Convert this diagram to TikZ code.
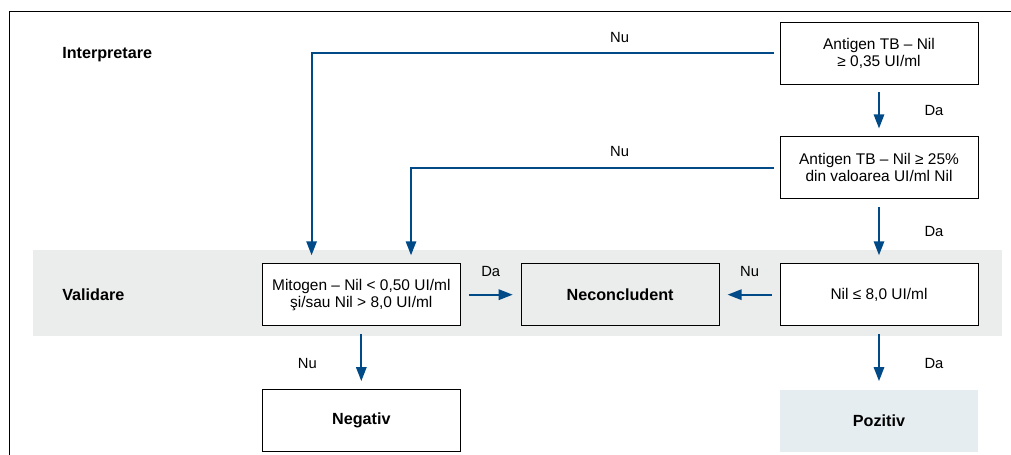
\documentclass[tikz,border=0pt]{standalone}
\usepackage{fontspec}
\setmainfont{Liberation Sans}
\usetikzlibrary{arrows.meta, positioning, calc, backgrounds}
\definecolor{qblue}{RGB}{0,75,135}
\definecolor{bandgray}{RGB}{235,236,236}
\definecolor{pozblue}{RGB}{230,237,241}

\begin{document}
\begin{tikzpicture}[
    % Define node styles
    box/.style={rectangle, draw=black, line width=0.6pt, fill=white, minimum height=1.55cm, minimum width=4.95cm, align=center, font=\fontsize{11}{12}\selectfont, inner sep=2pt},
    result/.style={box, font=\fontsize{11.5}{13}\selectfont\bfseries},
    head/.style={font=\fontsize{11.5}{13}\selectfont\bfseries, anchor=west, inner sep=0pt},
    lbl/.style={font=\fontsize{10.5}{12}\selectfont, inner sep=0pt},
    % Define edge style
    flow/.style={-{Triangle[length=0.35cm, width=0.26cm]}, draw=qblue, line width=1.3pt, shorten <=0.2cm, shorten >=0.2cm},
]

\useasboundingbox (0,0) rectangle (25.275,-11.375);

% Frame
\draw[line width=1.4pt] (0.2375,-11.375) |- (25.275,-0.2875);

% Interpretation checks on the right
\node[box] (AgNil) at (21.975,-1.325) {Antigen TB – Nil\\≥ 0,35 UI/ml};
\node[box, below=1.3cm of AgNil] (AgPct) {Antigen TB – Nil ≥ 25\%\\din valoarea UI/ml Nil};

% Validation row
\node[box, below=1.6cm of AgPct] (NilMax) {Nil ≤ 8,0 UI/ml};
\node[result, fill=bandgray, left=1.5cm of NilMax] (Necon) {Neconcludent};
\node[box, left=1.5cm of Necon] (Mito) {Mitogen – Nil < 0,50 UI/ml\\şi/sau Nil > 8,0 UI/ml};

% Results
\node[result, below=1.575cm of Mito] (Neg) {Negativ};
\node[result, draw=none, fill=pozblue, below=1.575cm of NilMax] (Poz) {Pozitiv};

% Section headings
\node[head] (interp) at (1.55,-1.375) {Interpretare};
\node[head] (valid) at (1.55,0 |- NilMax) {Validare};

% Grey band behind the validation row
\begin{scope}[on background layer]
\fill[bandgray] (0.825,-6.25) rectangle (25.05,-8.4);
\end{scope}

% Connectors
\draw[flow] (AgNil) -- node[lbl, xshift=1.375cm] {Da} (AgPct);
\draw[flow] (AgPct) -- node[lbl, xshift=1.375cm] {Da} (NilMax);
\draw[flow] (NilMax) -- node[lbl, xshift=1.375cm, yshift=-0.15cm] {Da} (Poz);
\draw[flow] (Mito) -- node[lbl, xshift=-1.35cm, yshift=-0.15cm] {Nu} (Neg);
\draw[flow] (Mito) -- node[lbl, yshift=0.575cm] {Da} (Necon);
\draw[flow] (NilMax) -- node[lbl, yshift=0.575cm] {Nu} (Necon);
\draw[flow, shorten <=0.15cm] (AgNil.west) -| ($(Mito.north west)!0.25!(Mito.north east)$);
\draw[flow, shorten <=0.15cm] (AgPct.west) -| ($(Mito.north west)!0.75!(Mito.north east)$);
\node[lbl] (nu1) at ($(AgNil.west)+(-4,0.4)$) {Nu};
\node[lbl] (nu2) at ($(AgPct.west)+(-4,0.4)$) {Nu};

\end{tikzpicture}
\end{document}
